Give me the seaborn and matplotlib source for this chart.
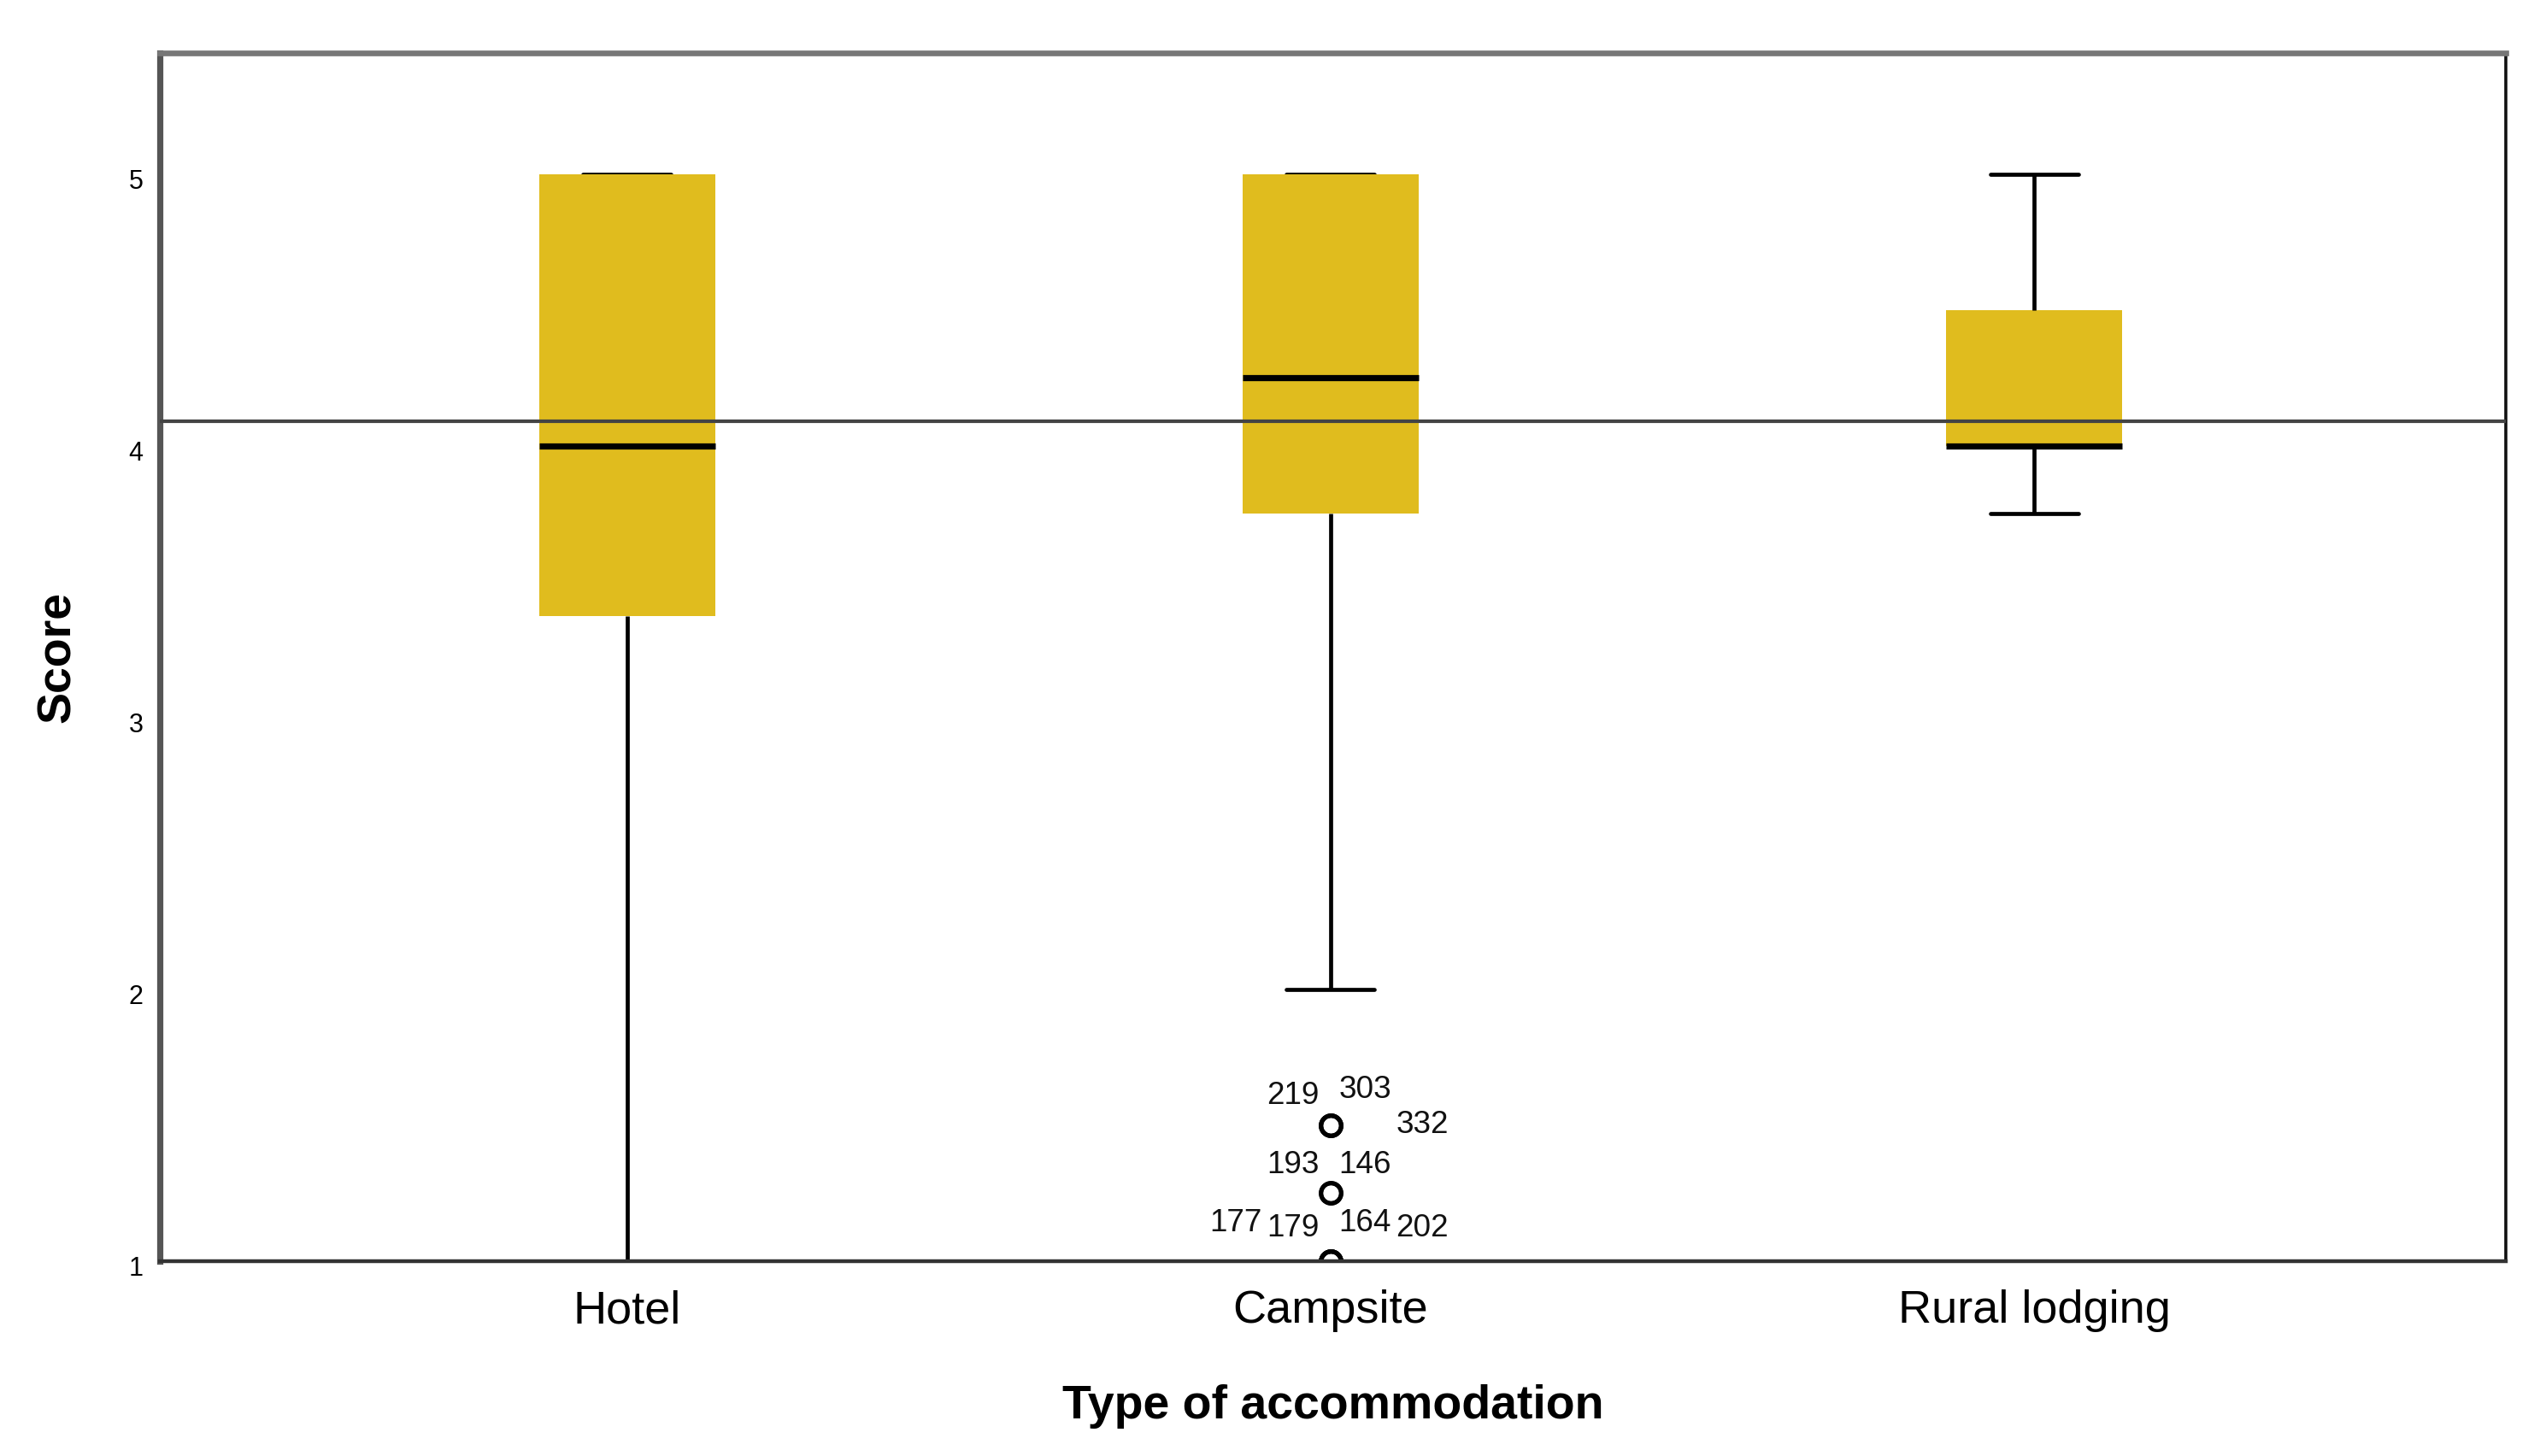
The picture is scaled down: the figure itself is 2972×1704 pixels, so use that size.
import numpy as np
import pandas as pd
import matplotlib
matplotlib.use("Agg")
import matplotlib.pyplot as plt
import matplotlib.transforms as mtransforms
import seaborn as sns

# score levels (means of four items) and how many respondents hit each one
categories = ["Hotel", "Campsite", "Rural lodging"]

hotel_scores = [1.0, 1.5, 2.0, 2.5, 2.75, 3.0, 3.25, 3.5, 3.75, 4.0, 4.25, 4.5, 4.75, 5.0]
hotel_counts = [1, 1, 2, 1, 1, 2, 3, 4, 3, 6, 2, 3, 2, 12]

campsite_scores = [1.0, 1.25, 1.5, 2.0, 3.75, 4.0, 4.25, 4.5, 4.75, 5.0]
campsite_counts = [4, 2, 3, 1, 5, 5, 4, 3, 3, 11]

rural_scores = [3.75, 4.0, 4.25, 4.5, 4.75, 5.0]
rural_counts = [1, 4, 1, 1, 1, 1]

# case numbers printed next to the campsite outliers
outlier_values = [1.5, 1.5, 1.5, 1.25, 1.25, 1.0, 1.0, 1.0, 1.0]
outlier_ids = ["219", "303", "332", "193", "146", "177", "179", "164", "202"]

reference_score = 4.09

# label offsets around each outlier circle (points)
label_offsets = [(-16, 12.5), (14.5, 15), (38.5, 0),
                 (-16, 12), (14.5, 12),
                 (-40, 16), (-16, 14), (14.5, 16), (38.5, 14)]

frames = []
for name, sc, ct in [("Hotel", hotel_scores, hotel_counts),
                     ("Campsite", campsite_scores, campsite_counts),
                     ("Rural lodging", rural_scores, rural_counts)]:
    frames.append(pd.DataFrame({"type": name, "score": np.repeat(sc, ct)}))
df = pd.concat(frames, ignore_index=True)

sns.set_style("white")
plt.rcParams["font.family"] = ["Liberation Sans", "DejaVu Sans"]
plt.rcParams["text.color"] = "black"
plt.rcParams["axes.labelcolor"] = "black"
plt.rcParams["xtick.color"] = "black"
plt.rcParams["ytick.color"] = "black"

fig = plt.figure(figsize=(14.86, 8.52), dpi=200)
ax = fig.add_axes([0.0629, 0.1338, 0.9236, 0.8298])

gold = "#E0BC1E"
sns.boxplot(
    data=df, x="type", y="score", order=categories, ax=ax,
    width=0.25, color=gold, saturation=1, whis=1.5,
    boxprops=dict(facecolor=gold, linewidth=0, zorder=2),
    medianprops=dict(color="black", linewidth=2.6, zorder=3),
    whiskerprops=dict(color="black", linewidth=1.7),
    capprops=dict(color="black", linewidth=1.7, zorder=1.5),
    flierprops=dict(marker="o", markerfacecolor="none", markeredgecolor="black",
                    markersize=8.5, markeredgewidth=1.8),
    fliersize=8.5,
)

ax.axhline(reference_score, color="#444444", linewidth=1.5, zorder=6)

camp_x = categories.index("Campsite")
for val, lab, off in zip(outlier_values, outlier_ids, label_offsets):
    ax.annotate(lab, xy=(camp_x, val), xytext=off, textcoords="offset points",
                ha="center", va="center", fontsize=13.3, color="#111111")

ax.set_ylim(1.0, 5.446)
ax.set_xlim(-0.664, 2.67)
ax.set_yticks([1, 2, 3, 4, 5])
ax.tick_params(axis="y", length=0, labelsize=11, pad=7)
ax.tick_params(axis="x", length=0, labelsize=19.5, pad=12)

# SPSS puts the value labels a touch below their grid position
shift = mtransforms.ScaledTranslation(0, -2 / 72, fig.dpi_scale_trans)
for lbl in ax.get_yticklabels():
    lbl.set_transform(lbl.get_transform() + shift)

ax.set_ylabel("Score", fontsize=20, fontweight="bold", va="center")
ax.yaxis.set_label_coords(-0.0434, 0.5)
ax.set_xlabel("Type of accommodation", fontsize=20, fontweight="bold", va="center")
ax.xaxis.set_label_coords(0.5, -0.1205)

for side, col, lw in [("left", "#555555", 2.6), ("top", "#777777", 2.4),
                      ("right", "#111111", 1.3), ("bottom", "#333333", 1.6)]:
    ax.spines[side].set_visible(True)
    ax.spines[side].set_color(col)
    ax.spines[side].set_linewidth(lw)

fig.savefig("out.png", dpi=200, facecolor="white")
